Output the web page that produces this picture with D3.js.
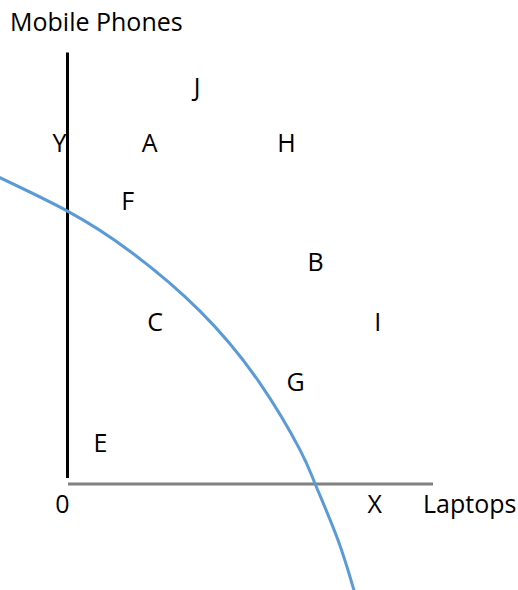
<!DOCTYPE html>
<html>
<head>
<meta charset="utf-8">
<script src="https://cdn.jsdelivr.net/npm/d3@7"></script>
<style>
body { margin: 0; background: #fff; }
svg text { font-family: "Open Sans", sans-serif; font-size: 25px; fill: #000; }
</style>
</head>
<body>
<div id="chart"></div>
<script>
var width = 518, height = 590;

// axis titles and tick labels
var xTitle = "Laptops", yTitle = "Mobile Phones";
var xTicks = [0, 8.4], xTickLabels = ["0", "X"];
var yTicks = [7.9], yTickLabels = ["Y"];

// lettered points (laptops, mobile phones)
var pointNames = ["J", "A", "H", "F", "B", "C", "I", "G", "E"];
var pointX = [3.55, 2.25, 6.0, 1.65, 6.8, 2.4, 8.5, 6.25, 0.9];
var pointY = [9.2, 7.9, 7.9, 6.55, 5.15, 3.75, 3.75, 2.35, 0.95];

// production possibility curve
var curveX = [-1.99, 0, 1.71, 3.63, 5.27, 6.37, 6.78, 7.41, 7.90];
var curveY = [7.15, 6.32, 5.39, 4.00, 2.33, 0.78, 0, -1.31, -2.63];

var svg = d3.select("#chart")
	.append("svg")
	.attr("width", width)
	.attr("height", height);

var x = d3.scaleLinear()
	.domain([0, 10])
	.range([67.5, 432.5]);

var y = d3.scaleLinear()
	.domain([0, 10])
	.range([483.5, 52.5]);

var xAxis = g => g.attr("transform", `translate(0,${y(0)})`)
	.call(d3.axisBottom(x).tickValues(xTicks).tickFormat((d, i) => xTickLabels[i])
		.tickSize(0).tickSizeOuter(0).tickPadding(11.5))
	.call(g => g.select(".domain").attr("stroke", "#808080").attr("stroke-width", 3))
	.call(g => g.selectAll(".tick text").filter(d => d === 0).attr("dx", -5.5));

var yAxis = g => g.attr("transform", `translate(${x(0)},0)`)
	.call(d3.axisLeft(y).tickValues(yTicks).tickFormat((d, i) => yTickLabels[i])
		.tickSize(0).tickPadding(1))
	.call(g => g.select(".domain").remove());

svg.append("g")
	.call(xAxis);

// vertical axis stops just short of the horizontal one
svg.append("line")
	.attr("x1", x(0))
	.attr("x2", x(0))
	.attr("y1", y(10))
	.attr("y2", y(0) - 5.5)
	.attr("stroke", "#000")
	.attr("stroke-width", 3);

svg.append("g")
	.call(yAxis);

var curve = curveX.map((d, i) => [d, curveY[i]]);

svg.append("path")
	.datum(curve)
	.attr("fill", "none")
	.attr("stroke", "#5b9bd5")
	.attr("stroke-width", 3)
	.attr("d", d3.line()
		.x(d => x(d[0]))
		.y(d => y(d[1]))
		.curve(d3.curveNatural));

svg.append("g")
	.selectAll("text")
	.data(pointNames)
	.join("text")
	.attr("x", (d, i) => x(pointX[i]))
	.attr("y", (d, i) => y(pointY[i]))
	.attr("dy", "0.36em")
	.attr("text-anchor", "middle")
	.text(d => d);

svg.append("text")
	.attr("x", x(0) - 57.5)
	.attr("y", y(10) - 21.5)
	.text(yTitle);

svg.append("text")
	.attr("x", x(10) - 9.5)
	.attr("y", y(0) + 11.5)
	.attr("dy", "0.71em")
	.text(xTitle);
</script>
</body>
</html>
